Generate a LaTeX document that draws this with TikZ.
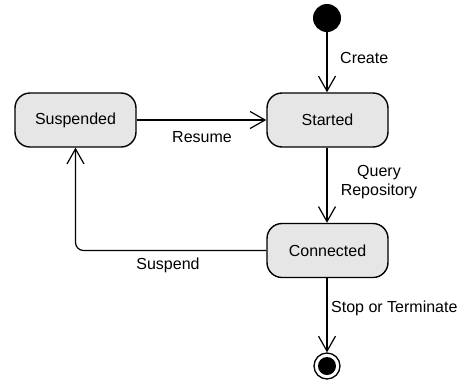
\documentclass[tikz,border=0pt]{standalone}
\usepackage{fontspec}
\setmainfont{Liberation Sans}
\usetikzlibrary{arrows.meta}
\definecolor{statefill}{HTML}{E6E6E6}
\begin{document}
\begin{tikzpicture}[x=1pt,y=-1pt,
  state/.style={draw, line width=1.4pt, fill=statefill, rounded corners=15pt,
    minimum width=121pt, minimum height=54pt, inner sep=0pt,
    font=\fontsize{16}{18.5}\selectfont},
  lbl/.style={font=\fontsize{16}{18.5}\selectfont, inner sep=0pt, align=center},
  trans/.style={line width=1.2pt, -{Straight Barb[length=15pt,width=17pt,line width=1.2pt]}}]
\useasboundingbox (0,0) rectangle (461,381);
\node[circle, fill=black, minimum size=28pt, inner sep=0pt] (init) at (327,18) {};
\node[state] (started) at (327.5,120) {Started};
\node[state] (susp) at (75.5,120) {Suspended};
\node[state] (conn) at (327.5,250.5) {Connected};
\node[circle, draw, line width=1.3pt, fill=white, minimum size=26pt, inner sep=0pt] (final) at (327,366) {};
\fill (final.center) circle (9pt);
\draw[trans] (init) -- (started.north -| init);
\draw[trans] (susp.east) -- (started.west);
\draw[trans] (started.south -| init) -- (conn.north -| init);
\draw[trans, rounded corners=8pt] (conn.west) -- (susp.south |- conn.west) -- (susp.south);
\draw[trans] (conn.south -| init) -- (final.north);
\node[lbl, anchor=west] (lcreate) at (340,58) {Create};
\node[lbl] (lresume) at (202,137) {Resume};
\node[lbl] (lquery) at (379,182) {Query\\Repository};
\node[lbl] (lsusp) at (168,265) {Suspend};
\node[lbl, anchor=west] (lstop) at (331,308) {Stop or Terminate};
\end{tikzpicture}
\end{document}
